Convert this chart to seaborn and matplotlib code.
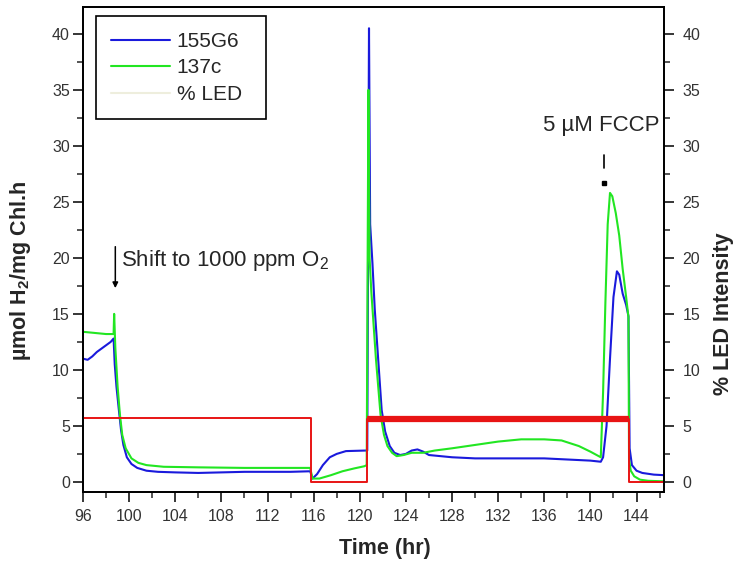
import numpy as np
import pandas as pd
import matplotlib
matplotlib.use("Agg")
import matplotlib.pyplot as plt
from matplotlib.lines import Line2D
from matplotlib.ticker import MultipleLocator
import seaborn as sns

# ---------------- data ----------------
t_155 = [96.0, 96.4, 96.8, 97.2, 97.6, 98.0, 98.4, 98.65, 98.75, 98.9, 99.1, 99.3, 99.5,
         99.8, 100.2, 100.7, 101.5, 102.5, 104.0, 106.0, 108.0, 110.0, 112.0, 114.0, 115.7,
         115.9, 116.3, 116.8, 117.4, 118.0, 118.8, 120.5, 120.65, 120.8, 120.9, 121.1, 121.3,
         121.5, 121.7, 121.9, 122.2, 122.6, 123.0, 123.5, 124.0, 124.5, 125.0, 125.5, 126.0,
         127.0, 128.0, 130.0, 132.0, 134.0, 136.0, 138.0, 140.0, 140.9, 141.1, 141.4, 141.7,
         142.0, 142.3, 142.5, 142.8, 143.1, 143.3, 143.4, 143.6, 144.0, 144.5, 145.5, 146.4]
v_155 = [11.0, 10.9, 11.2, 11.6, 11.9, 12.2, 12.5, 12.8, 10.5, 8.5, 6.5, 4.6, 3.3,
         2.2, 1.6, 1.25, 1.0, 0.9, 0.85, 0.8, 0.85, 0.9, 0.9, 0.9, 0.95,
         0.3, 0.7, 1.5, 2.2, 2.5, 2.75, 2.8, 2.8, 40.5, 23.0, 19.5, 15.4,
         12.4, 9.4, 6.4, 4.5, 3.2, 2.6, 2.4, 2.5, 2.8, 2.9, 2.7, 2.4,
         2.3, 2.2, 2.1, 2.1, 2.1, 2.1, 2.0, 1.9, 1.8, 2.2, 5.0, 11.0,
         16.5, 18.8, 18.5, 16.8, 15.8, 14.8, 3.0, 1.5, 1.0, 0.8, 0.65, 0.6]

t_137 = [96.0, 97.0, 98.0, 98.65, 98.7, 98.8, 99.0, 99.2, 99.4, 99.7, 100.2, 100.8, 101.5,
         103.0, 106.0, 110.0, 115.7, 115.9, 116.5, 117.5, 118.5, 119.5, 120.4, 120.6, 120.75,
         120.85, 121.0, 121.2, 121.4, 121.6, 121.8, 122.1, 122.4, 122.8, 123.2, 123.8, 124.5,
         125.5, 126.5, 128.0, 130.0, 132.0, 134.0, 136.0, 137.5, 139.0, 140.0, 140.9, 141.1,
         141.3, 141.5, 141.7, 141.9, 142.2, 142.5, 142.8, 143.1, 143.3, 143.35, 143.5, 143.8,
         144.3, 145.0, 146.4]
v_137 = [13.4, 13.3, 13.2, 13.2, 15.0, 12.0, 8.5, 6.0, 4.2, 3.0, 2.1, 1.7, 1.5,
         1.35, 1.3, 1.25, 1.25, 0.3, 0.3, 0.6, 0.95, 1.2, 1.4, 1.5, 35.0,
         20.0, 17.0, 14.0, 11.0, 8.5, 6.0, 4.2, 3.2, 2.6, 2.3, 2.4, 2.6,
         2.6, 2.8, 3.0, 3.3, 3.6, 3.8, 3.8, 3.7, 3.2, 2.7, 2.2, 8.0,
         16.0, 23.0, 25.8, 25.5, 24.0, 22.0, 19.0, 16.5, 14.7, 2.0, 1.0, 0.5,
         0.2, 0.1, 0.05]

t_led = [96.0, 115.8, 115.8, 120.6, 120.6, 143.35, 143.35, 146.4]
v_led = [5.7, 5.7, 0.0, 0.0, 5.6, 5.6, 0.0, 0.0]

x_ticks = [96, 100, 104, 108, 112, 116, 120, 124, 128, 132, 136, 140, 144]
y_ticks = [0, 5, 10, 15, 20, 25, 30, 35, 40]
series_labels = ["155G6", "137c", "% LED"]

# ---------------- style ----------------
sns.set_style("ticks")
plt.rcParams["font.family"] = ["Liberation Sans", "DejaVu Sans"]
plt.rcParams["mathtext.fontset"] = "custom"
plt.rcParams["mathtext.rm"] = "Liberation Sans"
plt.rcParams["mathtext.it"] = "Liberation Sans:italic"
plt.rcParams["mathtext.bf"] = "Liberation Sans:bold"

fig = plt.figure(figsize=(7.38, 5.67), dpi=100)
ax = fig.add_axes([0.1125, 0.1323, 0.7875, 0.8554])
ax2 = ax.twinx()

BLUE = "#1a1adc"
GREEN = "#22e622"
RED = "#e81414"

df155 = pd.DataFrame({"t": t_155, "v": v_155})
df137 = pd.DataFrame({"t": t_137, "v": v_137})
dfled = pd.DataFrame({"t": t_led, "v": v_led})

sns.lineplot(data=df155, x="t", y="v", ax=ax, color=BLUE, lw=1.5,
             estimator=None, sort=False, legend=False)
sns.lineplot(data=df137, x="t", y="v", ax=ax, color=GREEN, lw=1.5,
             estimator=None, sort=False, legend=False)
sns.lineplot(data=dfled, x="t", y="v", ax=ax2, color=RED, lw=1.4,
             estimator=None, sort=False, legend=False)
sns.lineplot(data=dfled.iloc[4:6], x="t", y="v", ax=ax2, color=RED, lw=4.5,
             estimator=None, sort=False, legend=False, solid_capstyle="butt")

xlim = (96, 146.4)
ylim = (-0.9, 42.4)
ax.set_xlim(*xlim)
ax.set_ylim(*ylim)
ax2.set_ylim(*ylim)

ax.set_xticks(x_ticks)
ax.set_xticklabels([str(v) for v in x_ticks])
ax.xaxis.set_minor_locator(MultipleLocator(2))
ax.set_yticks(y_ticks)
ax.yaxis.set_minor_locator(MultipleLocator(2.5))
ax2.set_yticks(y_ticks)
ax2.yaxis.set_minor_locator(MultipleLocator(2.5))

for a in (ax, ax2):
    a.tick_params(which="major", length=7, width=1.1, labelsize=11.5, colors="black",
                  labelcolor="#333333")
    a.tick_params(which="minor", length=4, width=1.1)
    for s in a.spines.values():
        s.set_linewidth(1.3)
        s.set_color("black")
ax.tick_params(axis="y", pad=2.5)
ax.tick_params(axis="x", pad=5.5)
ax2.tick_params(axis="y", pad=6)

ax.set_xlabel("Time (hr)", fontsize=15.5, fontweight="bold")
ax.xaxis.set_label_coords(0.52, -0.095)
ax.set_ylabel(r"µmol H$_\mathbf{2}$/mg Chl.h", fontsize=15.5, fontweight="bold")
ax.yaxis.set_label_coords(-0.086, 0.456)
ax2.set_ylabel("% LED Intensity", fontsize=15.5, fontweight="bold")
ax2.yaxis.set_label_coords(1.084, 0.367)

# legend
handles = [Line2D([], [], color=BLUE, lw=1.5),
           Line2D([], [], color=GREEN, lw=1.5),
           Line2D([], [], color="#eeeedd", lw=1.5)]
leg = ax2.legend(handles, series_labels, loc="upper left",
                 bbox_to_anchor=(0.022, 0.5, 0.2926, 0.481), mode="expand",
                 frameon=True, fancybox=False, fontsize=15, handlelength=2.8,
                 handletextpad=0.34, labelspacing=0.36, borderpad=0.75, borderaxespad=0)
leg.get_frame().set_edgecolor("black")
leg.get_frame().set_linewidth(1.2)
leg.get_frame().set_alpha(1)

# annotations
ax2.annotate("", xy=(98.8, 17.3), xytext=(98.8, 21.0),
             arrowprops=dict(arrowstyle="-|>", color="black", lw=1.1,
                             mutation_scale=8, shrinkA=0, shrinkB=0))
ax2.text(99.3, 19.8, r"Shift to 1000 ppm O$_2$", fontsize=16, va="center", ha="left")

ax2.plot([141.2, 141.2], [28.0, 29.2], color="black", lw=1.2)
ax2.plot([141.2], [26.7], marker="s", ms=3, color="black")
ax2.text(140.9, 31.8, "5 µM FCCP", fontsize=16, va="center", ha="center")

fig.savefig("out.png", dpi=100)
